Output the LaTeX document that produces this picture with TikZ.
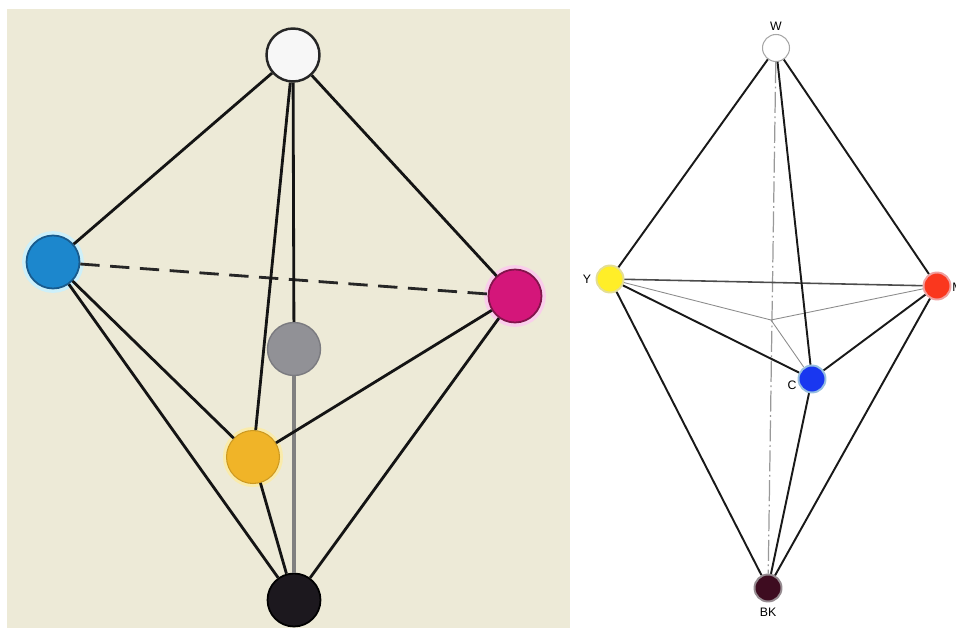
\documentclass[tikz,border=0pt]{standalone}
\usepackage{fontspec}
\setsansfont{Liberation Sans}
\usetikzlibrary{positioning}
\definecolor{paper}{RGB}{237,234,215}
\definecolor{cyanball}{RGB}{28,135,205}
\definecolor{cyanedge}{RGB}{25,90,140}
\definecolor{cyanglow}{RGB}{205,240,250}
\definecolor{magball}{RGB}{212,22,122}
\definecolor{magedge}{RGB}{130,20,75}
\definecolor{magglow}{RGB}{250,205,235}
\definecolor{yelball}{RGB}{240,180,40}
\definecolor{yelglow}{RGB}{250,235,170}
\definecolor{greyball}{RGB}{145,145,150}
\definecolor{inkball}{RGB}{28,24,30}
\definecolor{ryel}{RGB}{255,238,40}
\definecolor{ryelring}{RGB}{228,222,150}
\definecolor{rred}{RGB}{250,55,30}
\definecolor{rredring}{RGB}{240,160,160}
\definecolor{rblue}{RGB}{25,55,240}
\definecolor{rbluering}{RGB}{150,190,225}
\definecolor{rblk}{RGB}{62,12,32}
\definecolor{rblkring}{RGB}{150,140,145}
\tikzset{
  lball/.style={circle, inner sep=0pt, minimum size=1.06cm},
  rball/.style={circle, inner sep=0pt, minimum size=0.54cm, line width=1.1pt},
  lrib/.style={line width=1.6pt, draw=black!92},
  lback/.style={line width=1.6pt, draw=black!85, dash pattern=on 11pt off 6pt},
  laxis/.style={line width=1.8pt, draw=black!50},
  rrib/.style={line width=1.1pt, draw=black!90},
  rflat/.style={line width=0.9pt, draw=black!70},
  rthin/.style={line width=0.5pt, draw=black!45},
  raxis/.style={line width=0.7pt, draw=black!40, dash pattern=on 12pt off 2pt on 1pt off 2pt},
  lab/.style={font=\sffamily\fontsize{7}{8}\selectfont, inner sep=0pt},
}

\begin{document}
\begin{tikzpicture}[x=0.02cm, y=-0.02cm]
\useasboundingbox (0,0) rectangle (956,628);

% ===================== 1. left solid, beige card =========================
\fill[paper] (7,9) rectangle (570,628);

\node[lball, fill=white!97!black, draw=black!85, line width=1.4pt] (lw) at (293,55) {};
\node[lball, fill=cyanball, draw=cyanedge, line width=1pt,
      preaction={draw=cyanglow, line width=5pt}] (lc) at (53,262) {};
\node[lball, fill=magball, draw=magedge, line width=1pt,
      preaction={draw=magglow, line width=5pt}] (lm) at (515,296) {};
\node[lball, fill=greyball, draw=greyball!85!black, line width=0.8pt] (lg) at (294,349) {};
\node[lball, fill=yelball, draw=yelball!85!black, line width=0.6pt,
      preaction={draw=yelglow, line width=4pt}] (ly) at (253,457) {};
\node[lball, fill=inkball, draw=black, line width=1pt] (lk) at (294,600) {};

\draw[lback] (lc) -- (lm);
\draw[lrib] (lw) -- (lc);
\draw[lrib] (lw) -- (lm);
\draw[lrib] (lw) -- (ly);
\draw[lrib] (lw) -- (lg);
\draw[laxis] (lg) -- (lk);
\draw[lrib] (lc) -- (ly);
\draw[lrib] (lc) -- (lk);
\draw[lrib] (ly) -- (lm);
\draw[lrib] (ly) -- (lk);
\draw[lrib] (lm) -- (lk);

% ===================== 2. right solid, labelled ==========================
\node[rball, fill=white, draw=black!35, line width=0.6pt] (rw) at (776,48) {};
\node[rball, fill=ryel, draw=ryelring] (ry) at (610,279) {};
\node[rball, fill=rred, draw=rredring] (rm) at (937,286) {};
\node[rball, fill=rblue, draw=rbluering] (rc) at (812,379) {};
\node[rball, fill=rblk, draw=rblkring] (rbk) at (768,588) {};
\coordinate (rmid) at (771,320);

\node[lab, above=1.5pt of rw] (rwlab) {W};
\node[lab, below=3pt of rbk] (rbklab) {BK};
\node[lab] (rylab) at (587,279) {Y};
% cut by the right edge, as in the reference
\node[lab, anchor=west] (rmlab) at (952,287) {M};
\node[lab] (rclab) at (792,385) {C};

\draw[raxis] (rw) -- (rbk);
\draw[rthin] (ry) -- (rmid);
\draw[rthin] (rm) -- (rmid);
\draw[rthin] (rmid) -- (rc);
\draw[rflat] (ry) -- (rm);
\draw[rrib] (rw) -- (ry);
\draw[rrib] (rw) -- (rm);
\draw[rrib] (rw) -- (rc);
\draw[rrib] (ry) -- (rc);
\draw[rrib] (rm) -- (rc);
\draw[rrib] (ry) -- (rbk);
\draw[rrib] (rm) -- (rbk);
\draw[rrib] (rc) -- (rbk);

\end{tikzpicture}
\end{document}
